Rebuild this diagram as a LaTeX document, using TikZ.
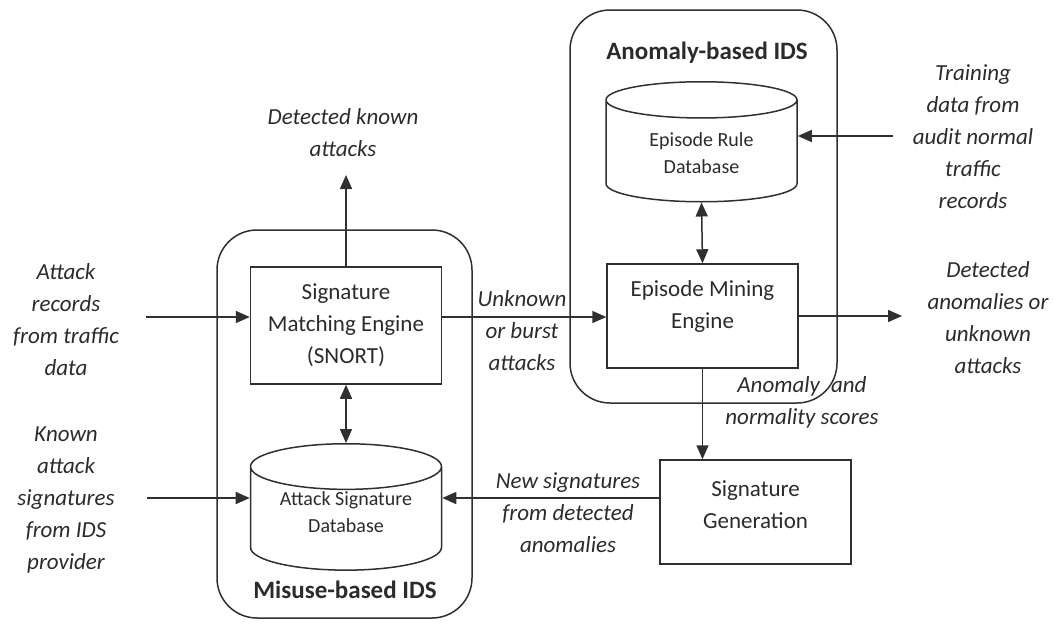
\documentclass[tikz,border=0pt]{standalone}
\usepackage{fontspec}
\setmainfont{Carlito}
\usepackage{xcolor}
\usepackage{tikz}
\usetikzlibrary{arrows.meta,positioning,shapes.geometric,calc}
\definecolor{ink}{HTML}{2B2B2B}
\definecolor{wire}{HTML}{303030}
\newcommand{\diafont}{\fontsize{23}{32}\selectfont}
\newcommand{\dbfont}{\fontsize{20}{27}\selectfont}

\tikzset{
  blockbox/.style={draw=wire,line width=1.5pt,minimum width=191pt,align=center,inner sep=2pt,text=ink},
  dbase/.style={cylinder,shape border rotate=90,draw=wire,line width=1.5pt,aspect=0.335,anchor=north,
                minimum width=191pt,align=center,inner sep=2pt,text=ink,font=\dbfont},
  groupbox/.style={draw=wire,line width=1.5pt,rounded corners=40pt},
  flow/.style={-{Triangle[length=14pt,width=12pt]},line width=1.5pt,draw=wire},
  dflow/.style={{Triangle[length=14pt,width=12pt]}-{Triangle[length=14pt,width=12pt]},line width=1.5pt,draw=wire},
  note/.style={font=\diafont\itshape,align=center,text=ink},
  grouptitle/.style={font=\fontsize{25}{30}\selectfont\bfseries,text=ink}
}

\begin{document}
\begin{tikzpicture}[x=1pt,y=-1pt,font=\diafont]
  \useasboundingbox (0,0) rectangle (1054,624);

  % the two IDS groups
  \node[groupbox,minimum width=255pt,minimum height=388pt] (misuse) at (344.5,424) {};
  \node[groupbox,minimum width=267pt,minimum height=393pt] (anomaly) at (703.5,206.5) {};
  \node[grouptitle] (misusetitle) at (345,590) {Misuse-based IDS};
  \node[grouptitle] (anomalytitle) at (707,53) {Anomaly-based IDS};

  % engines and databases
  \node[blockbox,minimum height=117pt] (sme) at (346,325.5) {Signature\\Matching Engine\\(SNORT)};
  \node[dbase,minimum height=114pt] (asd) at (346,443) {Attack Signature\\Database\\[-10pt]\mbox{}};
  \node[dbase,minimum height=120pt] (erd) at (701.5,81) {Episode Rule\\Database};
  \node[blockbox,minimum height=104pt] (eme) at (702.5,316) {Episode Mining\\Engine\\[-10pt]\mbox{}};
  \node[blockbox,minimum height=104pt] (sg) at (755.5,512) {Signature\\Generation\\[-17pt]\mbox{}};

  % free ends of the outer arrows
  \coordinate (outknown) at (346,175);
  \coordinate (inrec) at (146,317);
  \coordinate (insig) at (147,498);
  \coordinate (intrain) at (893,136);
  \coordinate (outanom) at (902,316);

  % connectors
  \draw[flow] (sme.north) -- (outknown);
  \draw[flow] (inrec) -- (inrec -| sme.west);
  \draw[flow] (insig) -- (insig -| asd.west);
  \draw[dflow] (sme.south) -- (asd.north);
  \draw[flow] (inrec -| sme.east) -- (inrec -| eme.west);
  \draw[dflow] (erd.south) -- (eme.north);
  \draw[flow] (intrain) -- (intrain -| erd.east);
  \draw[flow] (eme.east) -- (outanom);
  \draw[flow] (eme.south) -- (eme.south |- sg.north);
  \draw[flow] (insig -| sg.west) -- (insig -| asd.east);

  % arrow labels
  \node[note] (lknown) at (343,133) {Detected known\\attacks};
  \node[note] (lrec) at (66,320) {Attack\\records\\from traffic\\data};
  \node[note] (lsig) at (66,500) {Known\\attack\\signatures\\from IDS\\provider};
  \node[note] (lunk) at (522,331) {Unknown\\or burst\\attacks};
  \node[note] (ltrain) at (973,137) {Training\\data from\\audit normal\\traffic\\records};
  \node[note] (lanom) at (988,318) {Detected\\anomalies or\\unknown\\attacks};
  \node[note] (lscore) at (802,402) {Anomaly\hspace{6pt} and\\normality scores};
  \node[note] (lnew) at (568,513) {New signatures\\from detected\\anomalies};
\end{tikzpicture}
\end{document}
